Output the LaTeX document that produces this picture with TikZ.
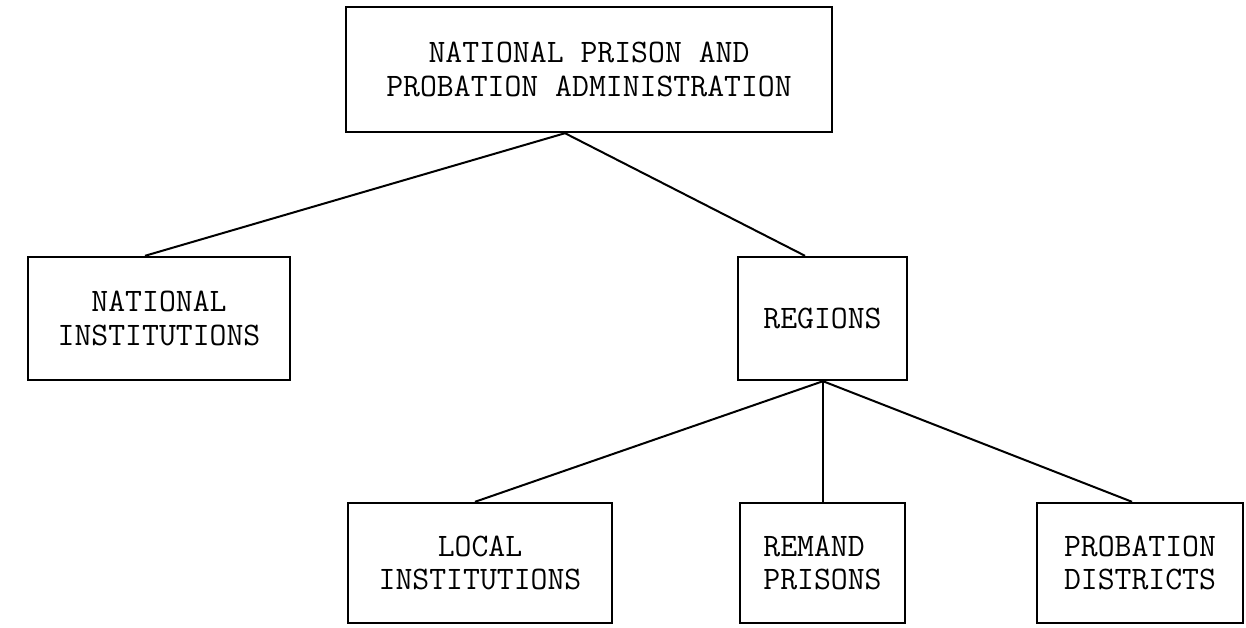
\documentclass[tikz,border=0pt]{standalone}
\usepackage{fontspec}
\begin{document}
\begin{tikzpicture}[x=0.5pt,y=-0.5pt,
  orgbox/.style={draw, line width=1.2pt, inner sep=0pt, align=center,
    font=\ttfamily\fontsize{16.4}{16.6}\selectfont},
  link/.style={line width=1pt}]
\useasboundingbox (0,0) rectangle (1246,627);
\node[orgbox, minimum width=243pt, minimum height=62.5pt] (top) at (589,69.5)
  {NATIONAL PRISON AND\\PROBATION ADMINISTRATION};
\node[orgbox, minimum width=131pt, minimum height=61.5pt] (ni) at (159,318.5)
  {NATIONAL\\INSTITUTIONS};
\node[orgbox, minimum width=84.5pt, minimum height=61.5pt] (reg) at (822.5,318.5)
  {REGIONS};
\node[orgbox, minimum width=132pt, minimum height=60pt] (loc) at (480,563)
  {LOCAL\\INSTITUTIONS};
\node[orgbox, minimum width=82.5pt, minimum height=60pt, align=left] (rem) at (822.5,563)
  {REMAND\\PRISONS};
\node[orgbox, minimum width=103pt, minimum height=60pt] (prob) at (1140,563)
  {PROBATION\\DISTRICTS};
\coordinate (xa) at (565,0);
\coordinate (xni) at (145,0);
\coordinate (xreg) at (805,0);
\coordinate (xb) at (823,0);
\coordinate (xloc) at (475,0);
\coordinate (xprob) at (1132,0);
\draw[link] (top.south -| xa) -- (ni.north -| xni);
\draw[link] (top.south -| xa) -- (reg.north -| xreg);
\draw[link] (reg.south -| xb) -- (loc.north -| xloc);
\draw[link] (reg.south -| xb) -- (rem.north -| xb);
\draw[link] (reg.south -| xb) -- (prob.north -| xprob);
\end{tikzpicture}
\end{document}
